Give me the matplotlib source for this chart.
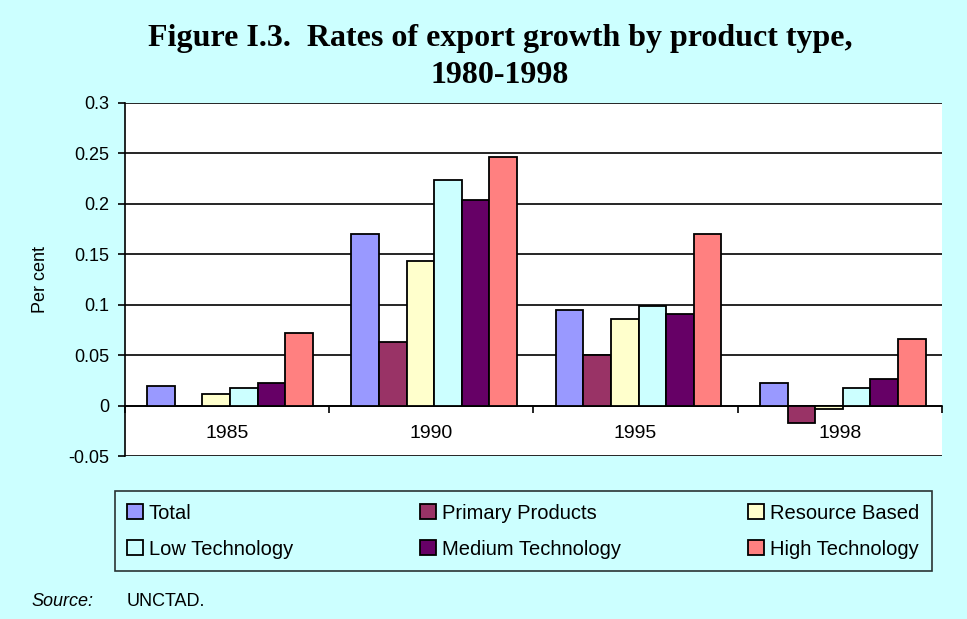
import numpy as np
import matplotlib.pyplot as plt
from matplotlib.ticker import FixedLocator

# dados
anos = ['1985', '1990', '1995', '1998']
series = ['Total', 'Primary Products', 'Resource Based',
          'Low Technology', 'Medium Technology', 'High Technology']
total = [0.020, 0.170, 0.095, 0.022]
primary = [0.0, 0.063, 0.050, -0.017]
resource = [0.012, 0.143, 0.086, -0.003]
low_tech = [0.018, 0.224, 0.099, 0.018]
medium_tech = [0.022, 0.204, 0.091, 0.026]
high_tech = [0.072, 0.246, 0.170, 0.066]
valores = [total, primary, resource, low_tech, medium_tech, high_tech]
cores = ['#9999FF', '#993366', '#FFFFCC', '#CCFFFF', '#660066', '#FF8080']

plt.rcParams['font.family'] = ['Liberation Sans', 'DejaVu Sans']

fig = plt.figure(figsize=(9.67, 6.19), dpi=100, facecolor='#CCFFFF')
ax = fig.add_axes([0.129, 0.263, 0.845, 0.571])
ax.set_facecolor('white')

x = np.arange(len(anos))
largura = 0.135
barras = []
for i, (nome, vals, cor) in enumerate(zip(series, valores, cores)):
    pos = x + (i - 2.5) * largura + 0.015
    b = ax.bar(pos, vals, largura, color=cor, edgecolor='black', linewidth=1.3,
               label=nome, zorder=3)
    barras.append(b)

ax.set_xlim(-0.5, len(anos) - 0.5)
ax.set_ylim(-0.05, 0.3)
ax.set_yticks(np.arange(-0.05, 0.301, 0.05))
ax.set_yticklabels(['-0.05', '0', '0.05', '0.1', '0.15', '0.2', '0.25', '0.3'],
                   fontsize=13)
ax.yaxis.grid(True, color='black', linewidth=1.2, zorder=0)
ax.tick_params(axis='y', direction='out', length=5, width=1.2, pad=6)

# eixo de categorias sobre o zero
ax.spines['bottom'].set_position(('data', 0))
ax.spines['bottom'].set_linewidth(1.2)
ax.spines['left'].set_linewidth(1.2)
ax.spines['top'].set_visible(False)
ax.spines['right'].set_visible(False)
ax.set_xticks(x)
ax.set_xticklabels(anos, fontsize=14)
ax.tick_params(axis='x', which='major', length=0, pad=14)
ax.xaxis.set_minor_locator(FixedLocator(np.arange(-0.5, len(anos), 1.0)))
ax.tick_params(axis='x', which='minor', direction='out', length=5, width=1.2)

ax.set_ylabel('Per cent', fontsize=13, labelpad=14)

fig.text(0.517, 0.908, 'Figure I.3.  Rates of export growth by product type,\n1980-1998',
         ha='center', va='center', fontsize=23, fontweight='bold',
         family='Liberation Serif', linespacing=1.35)

# legenda preenchida por linhas (3 colunas)
ordem = [0, 3, 1, 4, 2, 5]
leg = fig.legend([barras[k] for k in ordem], [series[k] for k in ordem],
                 loc='center', bbox_to_anchor=(0.541, 0.142, 0, 0), ncol=3,
                 fontsize=14.5, frameon=True, fancybox=False, edgecolor='black',
                 facecolor='#CCFFFF', handlelength=0.8, handleheight=0.8,
                 handletextpad=0.3, columnspacing=6.3, labelspacing=0.85,
                 borderpad=0.6)
leg.get_frame().set_linewidth(1.2)

fig.text(0.033, 0.029, 'Source:', fontsize=13, style='italic', va='center')
fig.text(0.131, 0.029, 'UNCTAD.', fontsize=13, va='center')

fig.savefig('out.png', dpi=100, facecolor=fig.get_facecolor())
